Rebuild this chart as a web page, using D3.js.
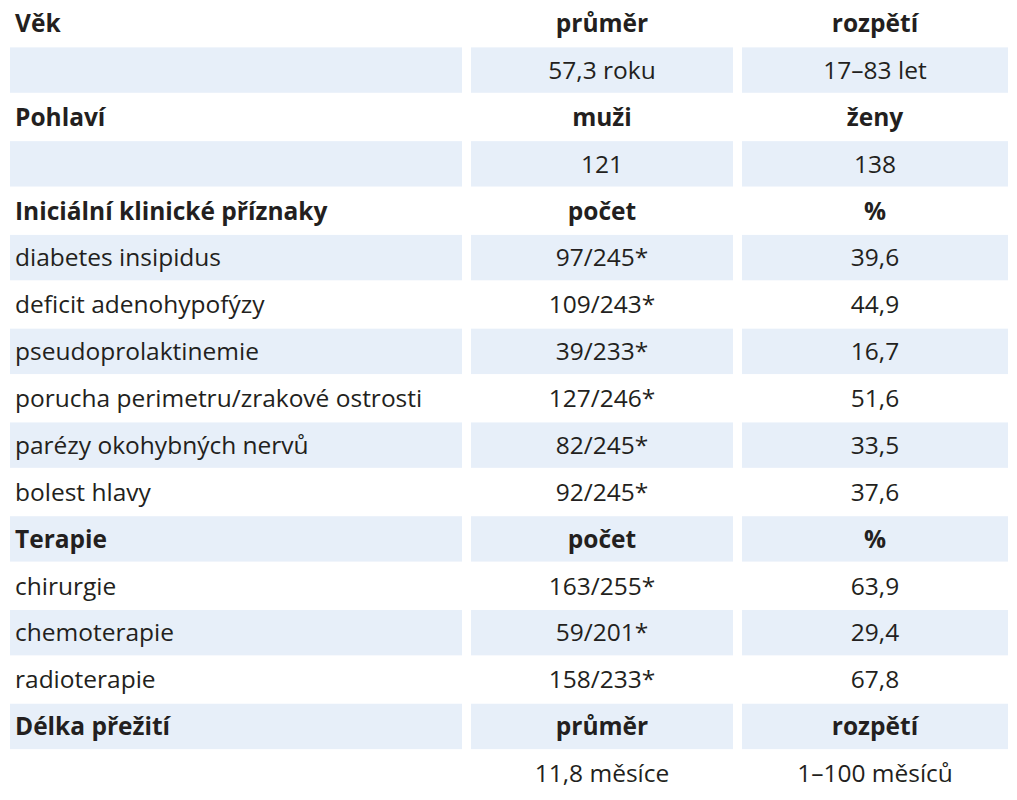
<!DOCTYPE html>
<html><head><meta charset="utf-8">
<script src="https://cdn.jsdelivr.net/npm/d3@7"></script>
<style>body{margin:0;background:#fff}</style></head>
<body><svg id="c" width="1017" height="800"></svg>
<script>
const labels = ["Věk","","Pohlaví","","Iniciální klinické příznaky","diabetes insipidus","deficit adenohypofýzy","pseudoprolaktinemie","porucha perimetru/zrakové ostrosti","parézy okohybných nervů","bolest hlavy","Terapie","chirurgie","chemoterapie","radioterapie","Délka přežití",""];
const col2 = ["průměr","57,3 roku","muži","121","počet","97/245*","109/243*","39/233*","127/246*","82/245*","92/245*","počet","163/255*","59/201*","158/233*","průměr","11,8 měsíce"];
const col3 = ["rozpětí","17–83 let","ženy","138","%","39,6","44,9","16,7","51,6","33,5","37,6","%","63,9","29,4","67,8","rozpětí","1–100 měsíců"];
const headerRows = [0,2,4,11,15];

const svg = d3.select("#c");
const y = d3.scaleLinear().domain([0,17]).range([0,797]);
const cols = [{x0:10,x1:462},{x0:471,x1:733},{x0:742,x1:1008}];
const rows = labels.map((l,i)=>({i,cells:[l,col2[i],col3[i]],head:headerRows.includes(i)}));
const g = svg.selectAll("g.r").data(rows).join("g");
g.each(function(d){
  const s = d3.select(this);
  if(d.i%2===1){
    cols.forEach(c=>s.append("rect").attr("x",c.x0).attr("width",c.x1-c.x0)
      .attr("y",y(d.i)+0.5).attr("height",y(d.i+1)-y(d.i)-1.5).attr("fill","#e7eff9"));
  }
  d.cells.forEach((t,j)=>{
    const c=cols[j];
    s.append("text").text(t)
      .attr("x", j===0?15:(c.x0+c.x1)/2)
      .attr("text-anchor", j===0?"start":"middle")
      .attr("y", y(d.i)+32)
      .attr("font-family","Open Sans, Noto Sans, sans-serif")
      .attr("font-size", 24.5)
      .attr("font-weight", d.head?"bold":"normal")
      .attr("fill","#231f20");
  });
});
</script></body></html>
